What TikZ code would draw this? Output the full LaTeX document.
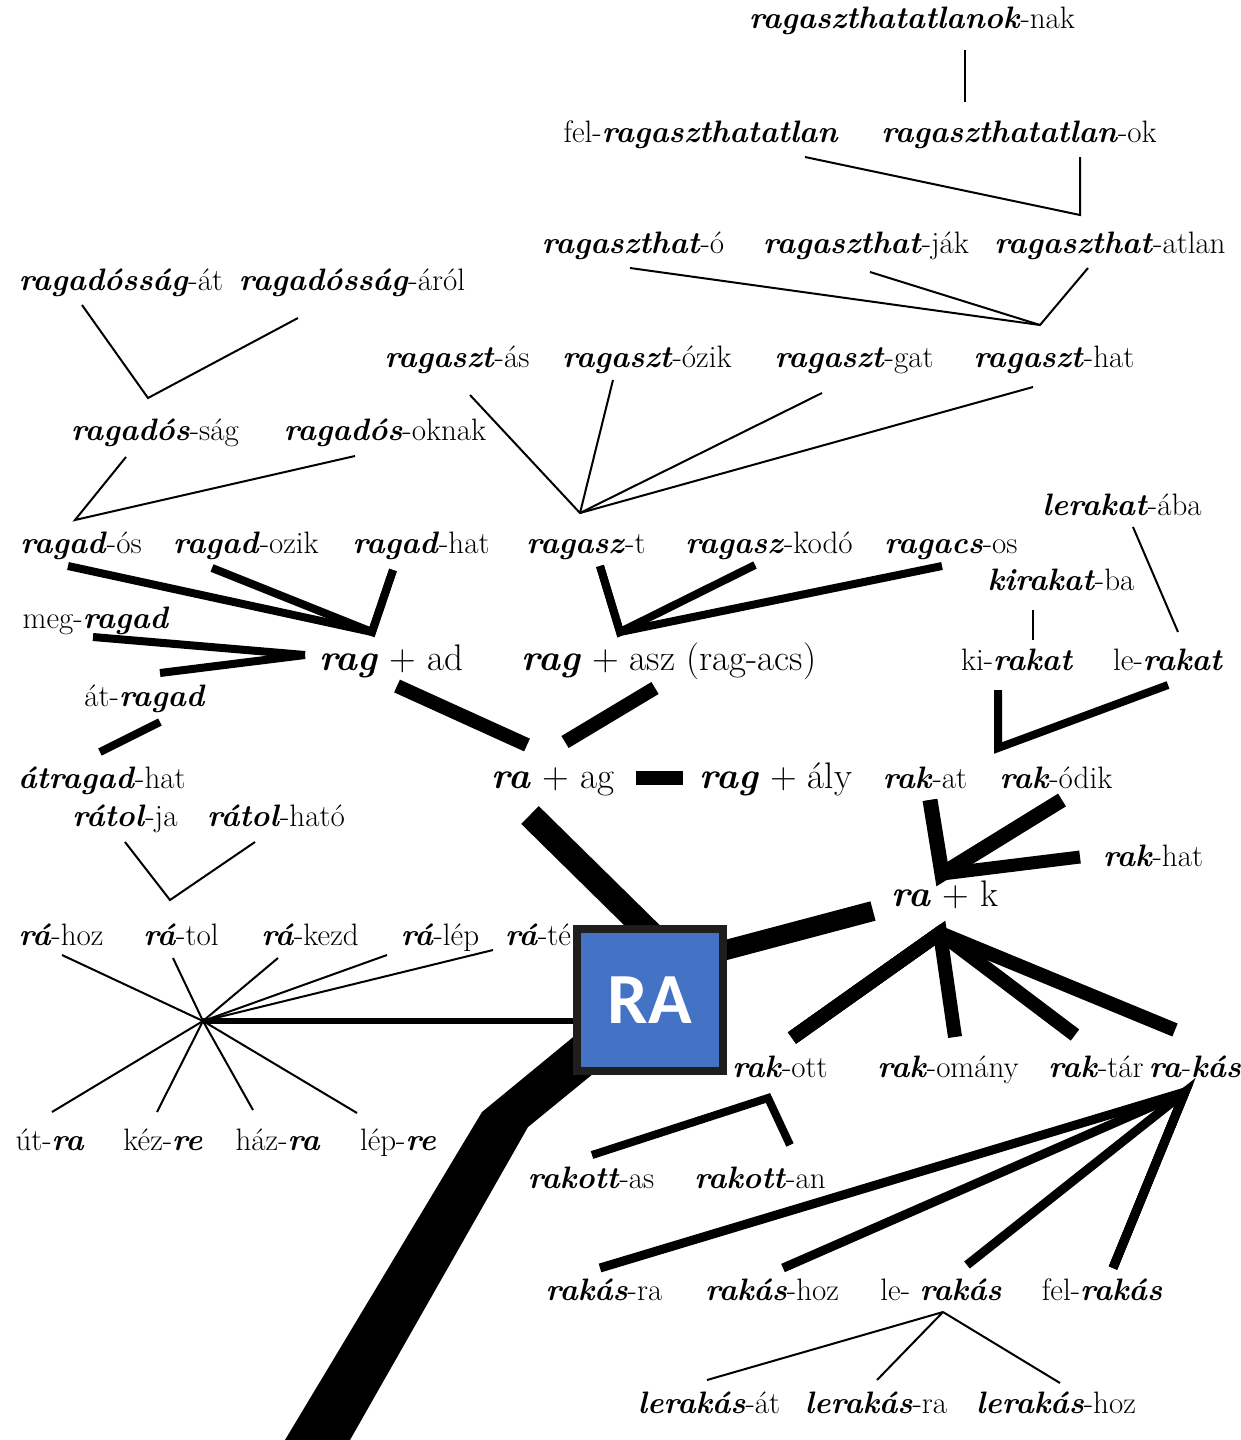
\documentclass[tikz,border=0pt]{standalone}
\usepackage{fontspec}
\usetikzlibrary{backgrounds}
\newfontfamily\boxfont{Carlito}
\definecolor{boxblue}{HTML}{4472C4}
\definecolor{boxedge}{HTML}{1E1E1E}
\newcommand{\rw}[1]{\textbf{\textit{#1}}}

\begin{document}
\begin{tikzpicture}[x=1pt,y=-1pt,line join=miter]
		\tikzstyle{word}=[anchor=base, inner sep=0pt, font=\fontsize{31}{34}\selectfont]
		\tikzstyle{big}=[word, font=\fontsize{37}{40}\selectfont]
		\tikzstyle{hair}=[line width=2pt]
		\tikzstyle{bar}=[line width=8pt]
		\tikzstyle{heavy}=[line width=14pt]
		\tikzstyle{rabox}=[rectangle, draw=boxedge, line width=8pt, fill=boxblue, minimum width=146, minimum height=142, inner sep=0pt, text=white, font=\boxfont\bfseries\fontsize{72}{72}\selectfont]

		\begin{scope}[on background layer]
		\fill[white] (0,0) rectangle (1241,1440);
		\end{scope}
		\useasboundingbox (0,0) rectangle (1241,1440);

		% upper right: ragaszt-
		\node [word] (n1)     at (912,28)  {\rw{ragaszthatatlanok}-nak};
		\node [word] (feltl)  at (701,142) {fel-\rw{ragaszthatatlan}};
		\node [word] (tlok)   at (1019,142) {\rw{ragaszthatatlan}-ok};
		\node [word] (tho)    at (633,253) {\rw{ragaszthat}-ó};
		\node [word] (tjak)   at (866,253) {\rw{ragaszthat}-ják};
		\node [word] (tatlan) at (1110,253) {\rw{ragaszthat}-atlan};
		\node [word] (tas)    at (457,367) {\rw{ragaszt}-ás};
		\node [word] (tozik)  at (647,367) {\rw{ragaszt}-ózik};
		\node [word] (tgat)   at (854,367) {\rw{ragaszt}-gat};
		\node [word] (thatb)  at (1054,367) {\rw{ragaszt}-hat};

		% upper left: ragad-
		\node [word] (ssat)   at (121,290) {\rw{ragadósság}-át};
		\node [word] (ssarol) at (352,290) {\rw{ragadósság}-áról};
		\node [word] (dsag)   at (155,440) {\rw{ragadós}-ság};
		\node [word] (doknak) at (385,440) {\rw{ragadós}-oknak};
		\node [word] (dos)    at (81,553)  {\rw{ragad}-ós};
		\node [word] (dozik)  at (246,553) {\rw{ragad}-ozik};
		\node [word] (dhat)   at (421,553) {\rw{ragad}-hat};
		\node [word] (szt)    at (586,553) {\rw{ragasz}-t};
		\node [word] (szkodo) at (769,553) {\rw{ragasz}-kodó};
		\node [word] (cos)    at (951,553) {\rw{ragacs}-os};
		\node [word] (meg)    at (96,628)  {meg-\rw{ragad}};
		\node [word] (atr)    at (145,706) {át-\rw{ragad}};
		\node [word] (atrh)   at (102,788) {\rw{átragad}-hat};

		% rakat
		\node [word] (lkaba)  at (1122,515) {\rw{lerakat}-ába};
		\node [word] (kkba)   at (1061,590) {\rw{kirakat}-ba};
		\node [word] (kirak)  at (1017,670) {ki-\rw{rakat}};
		\node [word] (lerak)  at (1168,670) {le-\rw{rakat}};

		% middle
		\node [big] (ragad)   at (391,670) {\rw{rag} + ad};
		\node [big] (ragasz)  at (669,670) {\rw{rag} + asz (rag-acs)};
		\node [big] (raag)    at (553,788) {\rw{ra} + ag};
		\node [big] (ragaly)  at (776,788) {\rw{rag} + ály};
		\node [word] (rakat)  at (925,788) {\rw{rak}-at};
		\node [word] (rakodik) at (1056,788) {\rw{rak}-ódik};
		\node [word] (rakhat) at (1153,866) {\rw{rak}-hat};
		\node [big] (rak)     at (945,906) {\rw{ra} + k};

		% left: rá-
		\node [word] (tja)    at (125,826) {\rw{rátol}-ja};
		\node [word] (thato)  at (276,826) {\rw{rátol}-ható};
		\node [word] (rhoz)   at (61,945)  {\rw{rá}-hoz};
		\node [word] (rtol)   at (181,945) {\rw{rá}-tol};
		\node [word] (rkezd)  at (310,945) {\rw{rá}-kezd};
		\node [word] (rlep)   at (440,945) {\rw{rá}-lép};
		\node [word, anchor=base west] (rte) at (505,945) {\rw{rá}-té};
		\node [word] (utra)   at (50,1150)  {út-\rw{ra}};
		\node [word] (kezre)  at (163,1150) {kéz-\rw{re}};
		\node [word] (hazra)  at (278,1150) {ház-\rw{ra}};
		\node [word] (lepre)  at (398,1150) {lép-\rw{re}};

		% lower right: rak-
		\node [word] (rott)   at (780,1077) {\rw{rak}-ott};
		\node [word] (romany) at (948,1077) {\rw{rak}-omány};
		\node [word] (rtar)   at (1096,1077) {\rw{rak}-tár};
		\node [word] (rkas)   at (1195,1077) {\rw{ra}-\rw{kás}};
		\node [word] (rkas1)  at (591,1188) {\rw{rakott}-as};
		\node [word] (rkan)   at (760,1188) {\rw{rakott}-an};
		\node [word] (ksra)   at (604,1300) {\rw{rakás}-ra};
		\node [word] (kshoz)  at (772,1300) {\rw{rakás}-hoz};
		\node [word] (lers)   at (941,1300) {le- \rw{rakás}};
		\node [word] (felrs)  at (1102,1300) {fel-\rw{rakás}};
		\node [word] (lsat)   at (709,1413) {\rw{lerakás}-át};
		\node [word] (lsra)   at (876,1413) {\rw{lerakás}-ra};
		\node [word] (lshoz)  at (1056,1413) {\rw{lerakás}-hoz};

		\node [rabox] (RA) at (650,1000) {RA};

		% connectors
		\coordinate (v1) at (1080,215);
		\coordinate (v2) at (1040,325);
		\coordinate (v3) at (148,398);
		\coordinate (v4) at (580,513);
		\coordinate (v5) at (75,520);
		\coordinate (v6) at (372,632);
		\coordinate (v7) at (620,632);
		\coordinate (v8) at (305,655);
		\coordinate (v9) at (998,748);
		\coordinate (v10) at (942,874);
		\coordinate (v11) at (170,900);
		\coordinate (star) at (203,1021);
		\coordinate (v12) at (940,933);
		\coordinate (v13) at (768,1098);
		\coordinate (v14) at (1185,1092);
		\coordinate (v15) at (943,1312);

		\draw[hair] ([shift={(53,22)}]n1.base) -- ([shift={(-54,-40)}]tlok.base);
		\draw[hair] ([shift={(104,15)}]feltl.base) -- (v1) -- ([shift={(61,15)}]tlok.base);
		\draw[hair] ([shift={(-3,15)}]tho.base) -- (v2) -- ([shift={(-22,15)}]tatlan.base);
		\draw[hair] ([shift={(4,19)}]tjak.base) -- (v2);
		\draw[hair] ([shift={(-39,15)}]ssat.base) -- (v3) -- ([shift={(-54,28)}]ssarol.base);
		\draw[hair] ([shift={(13,28)}]tas.base) -- (v4) -- ([shift={(-21,20)}]thatb.base);
		\draw[hair] ([shift={(-34,13)}]tozik.base) -- (v4);
		\draw[hair] ([shift={(-32,26)}]tgat.base) -- (v4);
		\draw[hair] ([shift={(-29,17)}]dsag.base) -- (v5) -- ([shift={(-30,16)}]doknak.base);
		\draw[bar] ([shift={(-13,13)}]dos.base) -- (v6) -- ([shift={(-28,17)}]dhat.base);
		\draw[bar] ([shift={(-34,15)}]dozik.base) -- (v6) -- ([shift={(-28,17)}]dhat.base);
		\draw[bar] ([shift={(-14,12)}]szkodo.base) -- (v7) -- ([shift={(14,13)}]szt.base);
		\draw[bar] ([shift={(-9,13)}]cos.base) -- (v7) -- ([shift={(14,13)}]szt.base);
		\draw[hair] ([shift={(11,12)}]lkaba.base) -- ([shift={(10,-38)}]lerak.base);
		\draw[hair] ([shift={(-28,20)}]kkba.base) -- ([shift={(16,-30)}]kirak.base);
		\draw[bar] ([shift={(-3,9)}]meg.base) -- (v8);
		\draw[bar] ([shift={(15,-33)}]atr.base) -- (v8);
		\draw[bar] ([shift={(15,16)}]atr.base) -- ([shift={(-2,-36)}]atrh.base);
		\draw[heavy] ([shift={(6,16)}]ragad.base) -- ([shift={(-26,-43)}]raag.base);
		\draw[heavy] ([shift={(-14,18)}]ragasz.base) -- ([shift={(12,-46)}]raag.base);
		\draw[heavy] ([shift={(83,-10)}]raag.base) -- ([shift={(-93,-10)}]ragaly.base);
		\draw[bar] ([shift={(-19,20)}]kirak.base) -- (v9) -- ([shift={(0,15)}]lerak.base);
		\draw[line width=15pt] ([shift={(5,12)}]rakat.base) -- (v10) -- ([shift={(6,12)}]rakodik.base);
		\draw[line width=13pt] ([shift={(5,12)}]rakat.base) -- (v10) -- ([shift={(-73,-9)}]rakhat.base);
		\draw[hair] ([shift={(0,16)}]tja.base) -- (v11) -- ([shift={(-21,16)}]thato.base);
		\foreach \n/\dx/\dy in {rhoz/1/10, rtol/-8/13, rkezd/-32/13, rlep/-53/10, utra/2/-38, kezre/-6/-38, hazra/-25/-40, lepre/-41/-37}
			\draw[hair] (star) -- ([shift={(\dx,\dy)}]\n.base);
		\draw[hair] (star) -- ([shift={(-12,5)}]rte.base west);
		\foreach \n/\dx/\dy in {romany/7/-40, rtar/-21/-42, rkas/-20/-47}
			\draw[line width=14pt] ([shift={(12,-39)}]rott.base) -- (v12) -- ([shift={(\dx,\dy)}]\n.base);
		\draw[bar] ([shift={(1,-33)}]rkas1.base) -- (v13) -- ([shift={(30,-43)}]rkan.base);
		\foreach \n/\dx/\dy in {ksra/-4/-32, kshoz/11/-32, lers/26/-35}
			\draw[line width=9pt] ([shift={(11,-32)}]felrs.base) -- (v14) -- ([shift={(\dx,\dy)}]\n.base);
		\foreach \n/\dx/\dy in {lsat/-2/-33, lsra/1/-33, lshoz/4/-30}
			\draw[hair] (v15) -- ([shift={(\dx,\dy)}]\n.base);

		% trunk and branches behind the box
		\begin{scope}[on background layer]
		\fill (285,1440) -- (482,1112) -- (600,1015) -- (610,1060) -- (528,1127) -- (350,1440) -- cycle;
		\draw[line width=6pt] (star) -- (star -| RA.center);
		\draw[line width=25pt] ([shift={(-23,27)}]raag.base) -- ([shift={(84,15)}]RA.north west);
		\draw[line width=20pt] ([shift={(-20,30)}]RA.north east) -- ([shift={(-72,5)}]rak.base);
		\end{scope}
	\end{tikzpicture}
\end{document}
